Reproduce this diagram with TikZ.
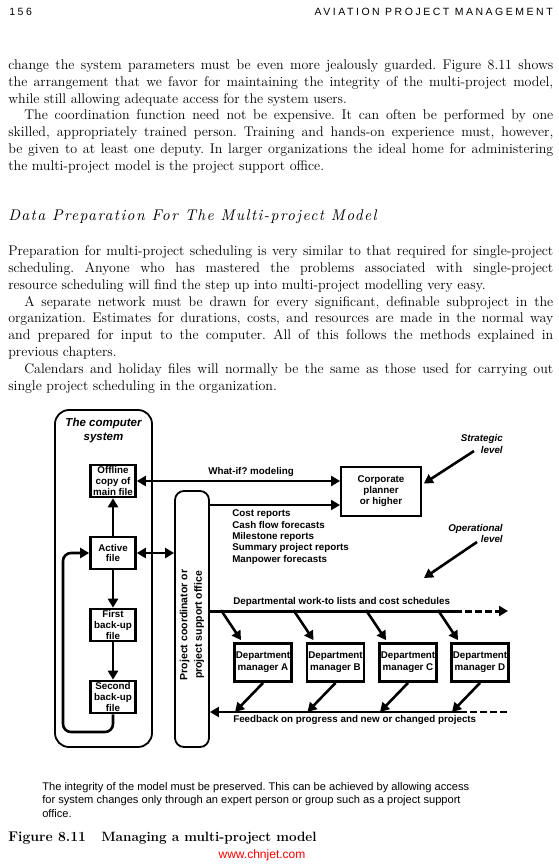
\documentclass[tikz,border=0pt]{standalone}
\usepackage{fontspec}
\usetikzlibrary{arrows.meta,positioning}
\newfontfamily\arial{Liberation Sans}
\newfontfamily\hdrfont[LetterSpace=24]{Liberation Sans}
\newfontfamily\secfont[Extension=.otf,LetterSpace=9]{lmroman10-italic}
\newcommand{\txtfont}{\fontsize{14}{16.85}\selectfont}
\newcommand{\figfont}{\arial\bfseries\fontsize{9.8}{10.8}\selectfont}
\tolerance=9999
\hyphenpenalty=10000
\exhyphenpenalty=10000
\frenchspacing
\begin{document}
\begin{tikzpicture}[x=1pt,y=-1pt,>={Triangle[length=9pt,width=10pt]},line width=2.6pt,node distance=72pt]
\tikzstyle{filebox}=[rectangle,draw,line width=2.6pt,minimum width=45pt,minimum height=32pt,inner sep=1pt,align=center,font=\figfont]
\tikzstyle{deptbox}=[rectangle,draw,line width=2.8pt,minimum width=57pt,minimum height=38pt,inner sep=1pt,align=center,font=\figfont\fontsize{9.8}{11.7}\selectfont]
\tikzstyle{sysbox}=[rectangle,draw,line width=1.8pt,rounded corners=14pt,inner sep=0]
\tikzstyle{lbl}=[inner sep=0,font=\figfont]
\tikzstyle{lvl}=[inner sep=0,font=\arial\bfseries\itshape\fontsize{9.8}{11.5}\selectfont]
\tikzstyle{dashline}=[dash pattern=on 7pt off 3pt]

\fill[white] (0,0) rectangle (558,866);

% page text
\node[anchor=west,inner sep=0,font=\hdrfont\fontsize{10.5}{12}\selectfont] (pagenum) at (8,12) {156};
\node[anchor=east,inner sep=0,font=\hdrfont\fontsize{10.5}{12}\selectfont] (runhead) at (554,12) {AVIATION PROJECT MANAGEMENT};
\node[anchor=north west,inner sep=0,text width=545pt,align=justify,font=\txtfont] (para1) at (7,58.3) {change the system parameters must be even more jealously guarded. Figure 8.11 shows\linebreak the arrangement that we favor for maintaining the integrity of the multi-project model,\linebreak while still allowing adequate access for the system users.\par\hspace*{16pt}The coordination function need not be expensive. It can often be performed by one\linebreak skilled, appropriately trained person. Training and hands-on experience must, however,\linebreak be given to at least one deputy. In larger organizations the ideal home for administering\linebreak the multi-project model is the project support office.};
\node[anchor=west,inner sep=0,font=\secfont\fontsize{15.5}{17}\selectfont] (heading) at (7,217) {Data Preparation For The Multi-project Model};
\node[anchor=north west,inner sep=0,text width=545pt,align=justify,font=\txtfont] (para2) at (7,244.3) {Preparation for multi-project scheduling is very similar to that required for single-project\linebreak scheduling. Anyone who has mastered the problems associated with single-project\linebreak resource scheduling will find the step up into multi-project modelling very easy.\par\hspace*{16pt}A separate network must be drawn for every significant, definable subproject in the\linebreak organization. Estimates for durations, costs, and resources are made in the normal way\linebreak and prepared for input to the computer. All of this follows the methods explained in\linebreak previous chapters.\par\hspace*{16pt}Calendars and holiday files will normally be the same as those used for carrying out\linebreak single project scheduling in the organization.};

% the computer system
\node[sysbox,minimum width=97pt,minimum height=337pt] (comp) at (103.5,578.5) {};
\node[inner sep=0,align=center,font=\arial\bfseries\itshape\fontsize{11.5}{14}\selectfont] (comptitle) at (103.5,431) {The computer\\system};
\node[filebox] (offline) at (113,481) {Offline\\copy of\\main file};
\node[filebox,below of=offline] (active) {Active\\file};
\node[filebox,below of=active] (first) {First\\back-up\\file};
\node[filebox,below of=first] (second) {Second\\back-up\\file};
\coordinate (loopbend) at (63,732);

\draw[->] (active) -- (offline);
\draw[->] (active) -- (first);
\draw[->] (first) -- (second);
\draw[->,rounded corners=8pt] (second.south) |- (loopbend) |- (active.west);

% project support office
\node[sysbox,rounded corners=9pt,minimum width=34pt,minimum height=256pt] (coord) at (192,619) {};
\node[inner sep=0,rotate=90,align=center,font=\arial\bfseries\fontsize{10.5}{14.5}\selectfont] (coordlbl) at (192,625) {Project coordinator or\\project support office};
\draw[<->] (active) -- (coord.west |- active);

\node[draw,line width=1.8pt,minimum width=80pt,minimum height=49pt,inner sep=1pt,align=center,font=\figfont\fontsize{9.8}{11}\selectfont] (corp) at (381,491.5) {Corporate\\planner\\or higher};
\draw[<->] (offline) -- (corp.west |- offline);
\node[lbl,anchor=west] (whatiflbl) at (207,472) {What-if? modeling};

\coordinate (costin) at (340,505);
\draw[->,line width=2.2pt] (coord.east |- costin) -- (costin);
\node[lbl,anchor=west,align=left,font=\figfont\fontsize{9.8}{11.4}\selectfont] (reportslbl) at (231,537) {Cost reports\\Cash flow forecasts\\Milestone reports\\Summary project reports\\Manpower forecasts};

\node[lvl,anchor=east,align=right] (stratlbl) at (504,444) {Strategic\\level};
\coordinate (stratfrom) at (474,451);
\draw[->] (stratfrom) -- ([xshift=2pt,yshift=8pt]corp.east);
\node[lvl,anchor=east,align=right] (operlbl) at (504,533.5) {Operational\\level};
\coordinate (operfrom) at (477,542);
\coordinate (operto) at (424,578);
\draw[->] (operfrom) -- (operto);

% departments
\coordinate (workdash) at (455,611);
\coordinate (worktip) at (508,611);
\draw[line width=3pt] (coord.east |- workdash) -- (workdash);
\draw[->,line width=3pt,dashline] (workdash) -- (worktip);
\node[lbl,anchor=west] (worklbl) at (232,602) {Departmental work-to lists and cost schedules};

\coordinate (fbdash) at (460,712);
\coordinate (fbend) at (508,712);
\draw[->,line width=2.2pt] (fbdash) -- (coord.east |- fbdash);
\draw[line width=2.2pt,dashline] (fbdash) -- (fbend);
\node[lbl,anchor=west] (fblbl) at (232,720) {Feedback on progress and new or changed projects};

\foreach \n/\x in {A/263,B/335.5,C/408,D/480}{
  \node[deptbox] (dep\n) at (\x,662.5) {Department\\manager \n};
  \draw[->] ([xshift=-42pt,yshift=32pt]dep\n.north) -- ([xshift=-22pt,yshift=2pt]dep\n.north);
  \draw[->] (dep\n.south) -- ([xshift=-28pt,yshift=-29pt]dep\n.south);
}

% caption
\node[anchor=north west,inner sep=0,align=left,font=\arial\fontsize{11.1}{13.5}\selectfont] (note) at (41,781) {The integrity of the model must be preserved. This can be achieved by allowing access\\for system changes only through an expert person or group such as a project support\\office.};
\node[anchor=west,inner sep=0,font=\bfseries\fontsize{14}{17}\selectfont] (fignum) at (7,838) {Figure 8.11};
\node[anchor=west,inner sep=0,font=\bfseries\fontsize{13.5}{17}\selectfont] (figtitle) at (100,838) {Managing a multi-project model};
\node[inner sep=0,text=red,font=\arial\fontsize{12}{14}\selectfont] (mark) at (262,855) {www.chnjet.com};
\end{tikzpicture}
\end{document}
